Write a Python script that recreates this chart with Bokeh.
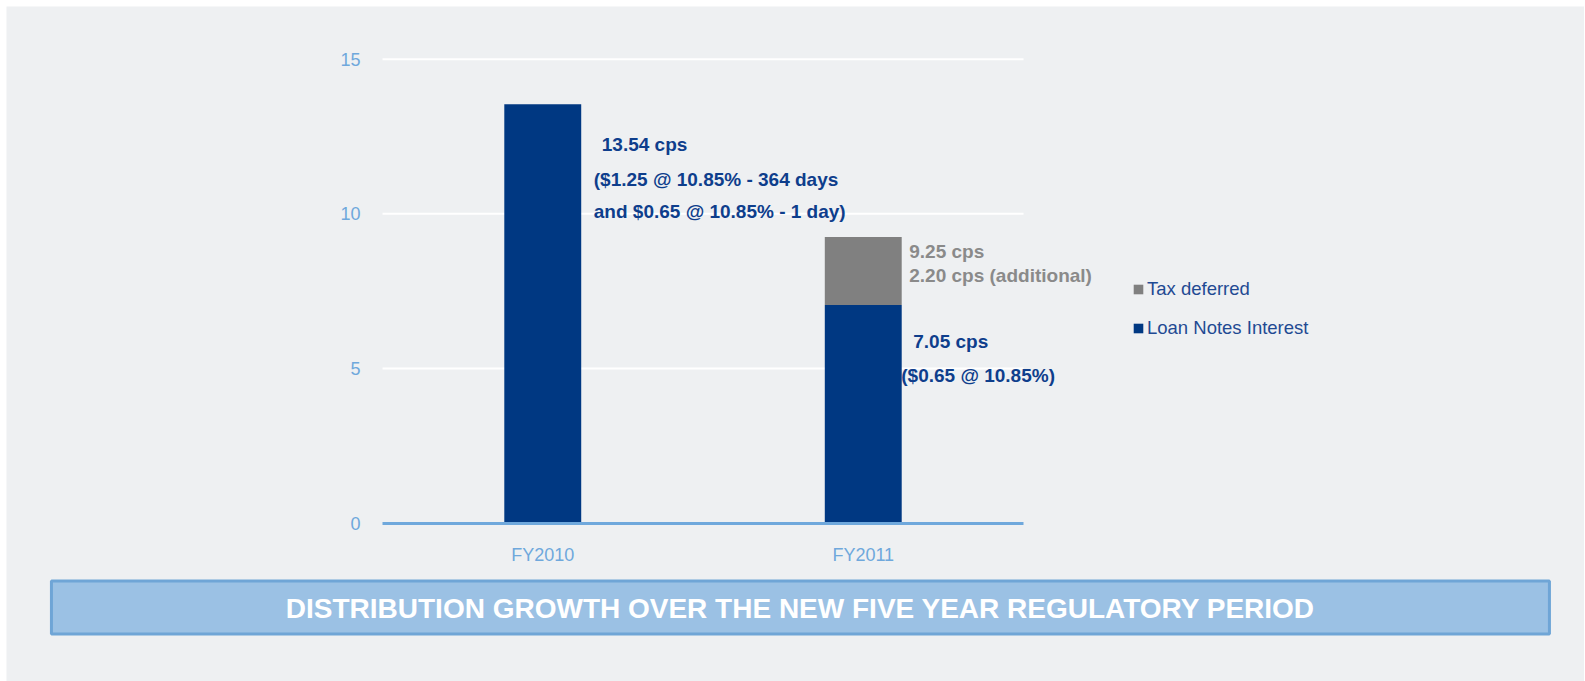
from bokeh.plotting import figure
from bokeh.models import (ColumnDataSource, Range1d, FixedTicker, Label,
                          Legend, LegendItem, BoxAnnotation)
from bokeh.embed import file_html
from bokeh.resources import INLINE

# ---- data ----
categories = ["FY2010", "FY2011"]
loan_notes = [13.54, 7.05]
tax_deferred = [0.0, 2.20]
y_ticks = [0, 5, 10, 15]
series_names = ["Loan Notes Interest", "Tax deferred"]

fy2010_notes = ["13.54 cps", "($1.25 @ 10.85% - 364 days", "and $0.65 @ 10.85% - 1 day)"]
fy2011_tax_notes = ["9.25 cps", "2.20 cps (additional)"]
fy2011_loan_notes = ["7.05 cps", "($0.65 @ 10.85%)"]
banner_text = "DISTRIBUTION GROWTH OVER THE NEW FIVE YEAR REGULATORY PERIOD"

# ---- styles ----
PANEL = "#EEF0F2"
BLUE = "#003882"
GRAY = "#808080"
TEXT_BLUE = "#0E3E8C"
TEXT_GRAY = "#8A8A8A"
AXIS_BLUE = "#6FA8DC"
FONT = "Liberation Sans"

# category slots: each category occupies one unit on the x scale
x_pos = [i + 0.5 for i in range(len(categories))]
n_cat = len(categories)

source = ColumnDataSource(dict(x=x_pos, **{series_names[0]: loan_notes,
                                           series_names[1]: tax_deferred}))

p = figure(width=1578, height=675, margin=(6, 0, 0, 6),
           x_range=Range1d(-1.1732, 3.7504),
           y_range=Range1d(-5.121, 16.702),
           output_backend="svg", toolbar_location=None, min_border=0)
p.background_fill_color = PANEL
p.border_fill_color = PANEL
p.outline_line_color = None
p.xgrid.grid_line_color = None
p.ygrid.grid_line_color = None

# horizontal gridlines across the category area only
grid_src = ColumnDataSource(dict(y=y_ticks[1:], x0=[0] * (len(y_ticks) - 1),
                                 x1=[n_cat] * (len(y_ticks) - 1)))
p.segment(x0="x0", x1="x1", y0="y", y1="y", source=grid_src,
          line_color="white", line_width=2)

renderers = p.vbar_stack(series_names, x="x", width=0.24, color=[BLUE, GRAY],
                         line_color=None, source=source)

# y axis
p.yaxis.fixed_location = 0
p.yaxis.ticker = FixedTicker(ticks=y_ticks)
p.yaxis.axis_line_color = None
p.yaxis.major_tick_line_color = None
p.yaxis.minor_tick_line_color = None
p.yaxis.major_tick_out = 0
p.yaxis.major_tick_in = 0
p.yaxis.major_label_standoff = 22
p.yaxis.major_label_text_font = FONT
p.yaxis.major_label_text_font_size = "18px"
p.yaxis.major_label_text_color = AXIS_BLUE

# x axis (category axis)
p.xaxis.fixed_location = 0
p.xaxis.bounds = (0, n_cat)
p.xaxis.ticker = FixedTicker(ticks=x_pos)
p.xaxis.major_label_overrides = {xp: c for xp, c in zip(x_pos, categories)}
p.xaxis.axis_line_color = AXIS_BLUE
p.xaxis.axis_line_width = 3
p.xaxis.major_tick_line_color = None
p.xaxis.minor_tick_line_color = None
p.xaxis.major_tick_out = 0
p.xaxis.major_tick_in = 0
p.xaxis.major_label_standoff = 22
p.xaxis.major_label_text_font = FONT
p.xaxis.major_label_text_font_size = "18px"
p.xaxis.major_label_text_color = AXIS_BLUE

# annotations next to the bars
def add_lines(xc, y_val, lines, offsets_x, offsets_y, color):
    for t, dx, dy in zip(lines, offsets_x, offsets_y):
        p.add_layout(Label(x=xc, y=y_val, text=t, x_offset=dx, y_offset=dy,
                           text_font=FONT, text_font_size="19px", text_font_style="bold",
                           text_color=color, text_align="left", text_baseline="middle"))

add_lines(x_pos[0], loan_notes[0], fy2010_notes, [59, 51, 51], [-40, -75, -107], TEXT_BLUE)
add_lines(x_pos[1], loan_notes[1] + tax_deferred[1], fy2011_tax_notes, [46, 46], [-15, -39], TEXT_GRAY)
add_lines(x_pos[1], loan_notes[1], fy2011_loan_notes, [50, 38], [-36, -70], TEXT_BLUE)

# legend
legend = Legend(items=[LegendItem(label=series_names[1], renderers=[renderers[1]]),
                       LegendItem(label=series_names[0], renderers=[renderers[0]])],
                location=(1126, 342), orientation="vertical",
                glyph_width=12, glyph_height=12, label_height=20, spacing=17,
                label_standoff=3, padding=0, margin=0,
                label_text_font=FONT, label_text_font_size="18.5px",
                label_text_color="#1F4A93",
                background_fill_alpha=0, border_line_color=None)
p.add_layout(legend, "center")

# banner below the chart
p.add_layout(BoxAnnotation(left=-1.033, right=3.641, top=-1.873, bottom=-3.584,
                           fill_color="#9BC1E4", fill_alpha=1,
                           line_color="#6FA5D6", line_width=3, line_alpha=1))
p.add_layout(Label(x=1.304, y=-2.75, text=banner_text, text_font=FONT,
                   text_font_size="28px", text_font_style="bold", text_color="white",
                   text_align="center", text_baseline="middle"))

open("out.html", "w").write(file_html(p, INLINE))
